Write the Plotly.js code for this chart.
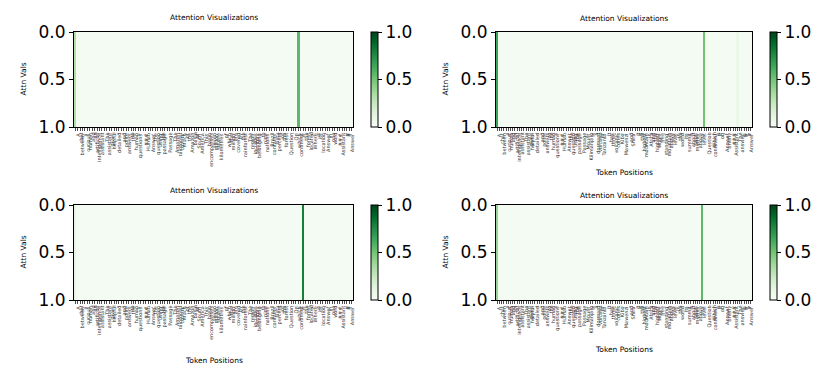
<!DOCTYPE html>
<html>
<head>
<meta charset="utf-8">
<script src="https://cdn.plot.ly/plotly-3.0.1.min.js"></script>
<style>
  html, body { margin: 0; padding: 0; background: #fff; }
  #chart { width: 830px; height: 368px; }
</style>
</head>
<body>
<div id="chart"></div>
<script>
// token labels for the two prompts (left column / right column)
const tokensLeft = [
  "<s>","A","chat","between","a","curious","human","and","an","artificial",
  "intelligence","assistant",".","The","assistant","gives","helpful",",","detailed",",",
  "and","polite","answers","to","the","human","'s","questions",".","###",
  "Human",":","Answer","the","question","using","the","passage",".","Passage",
  ":","The","Amazon","rainforest","covers","much","of","the","Amazon","basin",
  "of","South","America",".","This","basin","encompasses","seven","million","square",
  "kilometres",",","of","which","five","million","are","covered","by","the",
  "rainforest",".","The","region","includes","territory","belonging","to","nine","nations",
  ".","Brazil","contains","sixty","percent","of","the","forest",".","Question",
  ":","On","which","continent","is","the","forest","located","?","Where",
  "is","its","location","?","Answer","in","one","word",".","###",
  "Assistant",":","#","#","Answer"
];
const tokensRight = [
  "<s>","A","chat","between","a","curious","human","and","an","artificial",
  "intelligence","assistant",".","The","assistant","gives","helpful",",","detailed",",",
  "and","polite","answers","to","the","human","'s","questions",".","###",
  "Human",":","Answer","the","question","using","the","passage",".","Passage",
  ":","Mount","Kilimanjaro","is","a","dormant","volcano","in","Tanzania",".",
  "It","has","three","volcanic","cones",":","Kibo",",","Mawenzi",",",
  "and","Shira",".","It","is","the","highest","mountain","in","Africa",
  "and","the","highest","single","free","-","standing","mountain","above","sea",
  "level","in","the","world",".","Its","summit","is","about","5895",
  "metres","above","sea","level",".","Question",":","Which","continent","is",
  "it","on","?","Answer","briefly",".","###","Assistant",":","The",
  "answer","is","#","#","Answer"
];

// attention values per token
const attnTopLeft = [
  0.32,0.03,0.02,0.02,0.02,0.02,0.02,0.02,0.02,0.02,
  0.02,0.02,0.02,0.02,0.02,0.02,0.02,0.02,0.02,0.02,
  0.02,0.02,0.02,0.02,0.02,0.02,0.02,0.02,0.02,0.02,
  0.02,0.02,0.02,0.02,0.02,0.02,0.02,0.02,0.02,0.02,
  0.02,0.02,0.02,0.02,0.02,0.02,0.02,0.02,0.02,0.02,
  0.02,0.02,0.02,0.02,0.02,0.02,0.02,0.02,0.02,0.02,
  0.02,0.02,0.02,0.02,0.02,0.02,0.02,0.02,0.02,0.02,
  0.02,0.02,0.02,0.02,0.02,0.02,0.02,0.02,0.02,0.02,
  0.02,0.02,0.02,0.02,0.02,0.02,0.02,0.02,0.02,0.02,
  0.02,0.02,0.56,0.02,0.02,0.02,0.02,0.02,0.02,0.02,
  0.02,0.02,0.02,0.02,0.02,0.02,0.02,0.02,0.02,0.02,
  0.02,0.02,0.02,0.02,0.02
];
const attnTopRight = [
  0.65,0.03,0.02,0.02,0.02,0.02,0.02,0.02,0.02,0.02,
  0.02,0.02,0.02,0.02,0.02,0.02,0.02,0.02,0.02,0.02,
  0.02,0.02,0.02,0.02,0.02,0.02,0.02,0.02,0.02,0.02,
  0.02,0.02,0.02,0.02,0.02,0.02,0.02,0.02,0.02,0.02,
  0.02,0.02,0.02,0.02,0.02,0.02,0.02,0.02,0.02,0.02,
  0.02,0.02,0.02,0.02,0.02,0.02,0.02,0.02,0.02,0.02,
  0.02,0.02,0.02,0.02,0.02,0.02,0.02,0.02,0.02,0.02,
  0.02,0.02,0.02,0.02,0.02,0.02,0.02,0.02,0.02,0.02,
  0.02,0.02,0.02,0.02,0.02,0.02,0.02,0.02,0.02,0.02,
  0.02,0.02,0.02,0.50,0.02,0.02,0.02,0.02,0.02,0.02,
  0.02,0.02,0.02,0.02,0.02,0.02,0.02,0.02,0.08,0.02,
  0.02,0.02,0.02,0.02,0.02
];
const attnBottomLeft = [
  0.12,0.02,0.02,0.02,0.02,0.02,0.02,0.02,0.02,0.02,
  0.02,0.02,0.02,0.02,0.02,0.02,0.02,0.02,0.02,0.02,
  0.02,0.02,0.02,0.02,0.02,0.02,0.02,0.02,0.02,0.02,
  0.02,0.02,0.02,0.02,0.02,0.02,0.02,0.02,0.02,0.02,
  0.02,0.02,0.02,0.02,0.02,0.02,0.02,0.02,0.02,0.02,
  0.02,0.02,0.02,0.02,0.02,0.02,0.02,0.02,0.02,0.02,
  0.02,0.02,0.02,0.02,0.02,0.02,0.02,0.02,0.02,0.02,
  0.02,0.02,0.02,0.02,0.02,0.02,0.02,0.02,0.02,0.02,
  0.02,0.02,0.02,0.02,0.02,0.02,0.02,0.02,0.02,0.02,
  0.02,0.02,0.02,0.02,0.80,0.02,0.02,0.02,0.02,0.02,
  0.02,0.02,0.02,0.02,0.02,0.02,0.02,0.02,0.02,0.02,
  0.02,0.02,0.02,0.02,0.02
];
const attnBottomRight = [
  0.40,0.02,0.02,0.02,0.02,0.02,0.02,0.02,0.02,0.02,
  0.02,0.02,0.02,0.02,0.02,0.02,0.02,0.02,0.02,0.02,
  0.02,0.02,0.02,0.02,0.02,0.02,0.02,0.02,0.02,0.02,
  0.02,0.02,0.02,0.02,0.02,0.02,0.02,0.02,0.02,0.02,
  0.02,0.02,0.02,0.02,0.02,0.02,0.02,0.02,0.02,0.02,
  0.02,0.02,0.02,0.02,0.02,0.02,0.02,0.02,0.02,0.02,
  0.02,0.02,0.02,0.02,0.02,0.02,0.02,0.02,0.02,0.02,
  0.02,0.02,0.02,0.02,0.02,0.02,0.02,0.02,0.02,0.02,
  0.02,0.02,0.02,0.02,0.02,0.02,0.02,0.02,0.02,0.02,
  0.02,0.02,0.56,0.02,0.02,0.02,0.02,0.02,0.02,0.02,
  0.02,0.02,0.02,0.02,0.02,0.02,0.02,0.02,0.02,0.02,
  0.02,0.02,0.02,0.02,0.02
];

const yTickVals = [0, 0.5, 1];
const yTickText = ["0.0", "0.5", "1.0"];

// matplotlib "Greens"
const greens = [
  [0, '#f7fcf5'], [0.125, '#e5f5e0'], [0.25, '#c7e9c0'], [0.375, '#a1d99b'],
  [0.5, '#74c476'], [0.625, '#41ab5d'], [0.75, '#238b45'], [0.875, '#006d2c'], [1, '#00441b']
];

const FONT = 'DejaVu Sans, sans-serif';
const W = 830, H = 368;
const px = v => v / W;
const py = v => 1 - v / H;

// --- panel geometry (pixels) ---
const panels = [
  { vals: attnTopLeft,     tokens: tokensLeft,  x0: 74,  x1: 353, y0: 32,  y1: 127, title: 17,  xlab: null },
  { vals: attnTopRight,    tokens: tokensRight, x0: 496, x1: 752, y0: 32,  y1: 127, title: 19,  xlab: 173 },
  { vals: attnBottomLeft,  tokens: tokensLeft,  x0: 74,  x1: 353, y0: 205, y1: 300, title: 190, xlab: 360 },
  { vals: attnBottomRight, tokens: tokensRight, x0: 496, x1: 752, y0: 205, y1: 300, title: 195, xlab: 349 }
];

const traces = [];
const layout = {
  width: W, height: H,
  margin: { l: 0, r: 0, t: 0, b: 0 },
  paper_bgcolor: '#fff', plot_bgcolor: '#fff',
  font: { family: FONT, color: '#000' },
  showlegend: false,
  annotations: []
};

panels.forEach((p, i) => {
  const n = i + 1;
  const sfx = n === 1 ? '' : n;
  const idx = p.tokens.map((t, k) => k);

  traces.push({
    type: 'heatmap',
    z: [p.vals],
    x: idx,
    y: [0.5],
    xaxis: 'x' + sfx,
    yaxis: 'y' + sfx,
    zmin: 0, zmax: 1,
    colorscale: greens,
    hoverinfo: 'skip',
    colorbar: {
      x: px(p.x1 + 18), xanchor: 'left',
      y: (py(p.y0) + py(p.y1)) / 2, yanchor: 'middle',
      len: (p.y1 - p.y0) / H, lenmode: 'fraction',
      thickness: 7, thicknessmode: 'pixels',
      outlinewidth: 1, outlinecolor: '#000',
      xpad: 0, ypad: 0,
      tickvals: yTickVals, ticktext: yTickText,
      ticks: 'outside', ticklen: 4, tickwidth: 1, tickcolor: '#000',
      tickfont: { family: FONT, size: 17, color: '#000' }
    }
  });

  layout['xaxis' + sfx] = {
    domain: [px(p.x0), px(p.x1)],
    anchor: 'y' + sfx,
    range: [-0.5, p.tokens.length - 0.5],
    tickmode: 'array', tickvals: idx,
    showticklabels: false,
    ticks: 'outside', ticklen: 3, tickwidth: 0.7, tickcolor: '#000',
    showline: true, linecolor: '#000', linewidth: 1, mirror: true,
    showgrid: false, zeroline: false
  };
  layout['yaxis' + sfx] = {
    domain: [py(p.y1), py(p.y0)],
    anchor: 'x' + sfx,
    range: [1, 0],
    tickmode: 'array', tickvals: yTickVals, ticktext: yTickText,
    tickfont: { family: FONT, size: 17, color: '#000' },
    ticks: 'outside', ticklen: 4, tickwidth: 1, tickcolor: '#000',
    showline: true, linecolor: '#000', linewidth: 1, mirror: true,
    showgrid: false, zeroline: false
  };

  // token labels, rotated, hanging under each tick (drawn so none get culled)
  p.tokens.forEach((tok, k) => {
    layout.annotations.push({
      text: tok, xref: 'x' + sfx, yref: 'paper',
      x: k, y: py(p.y1 + 5), xanchor: 'center', yanchor: 'top',
      textangle: -90, showarrow: false, borderpad: 0,
      font: { family: FONT, size: 5, color: '#333' }
    });
  });

  const cx = px((p.x0 + p.x1) / 2);
  layout.annotations.push({
    text: 'Attention Visualizations', xref: 'paper', yref: 'paper',
    x: cx, y: py(p.title), xanchor: 'center', yanchor: 'middle',
    showarrow: false, font: { family: FONT, size: 7.5, color: '#000' }
  });
  layout.annotations.push({
    text: 'Attn Vals', xref: 'paper', yref: 'paper', textangle: -90,
    x: px(p.x0 - 51), y: (py(p.y0) + py(p.y1)) / 2, xanchor: 'center', yanchor: 'middle',
    showarrow: false, font: { family: FONT, size: 7.5, color: '#000' }
  });
  if (p.xlab !== null) {
    layout.annotations.push({
      text: 'Token Positions', xref: 'paper', yref: 'paper',
      x: cx, y: py(p.xlab), xanchor: 'center', yanchor: 'middle',
      showarrow: false, font: { family: FONT, size: 7.5, color: '#000' }
    });
  }
});

Plotly.newPlot('chart', traces, layout, { displayModeBar: false, staticPlot: true });
</script>
</body>
</html>
